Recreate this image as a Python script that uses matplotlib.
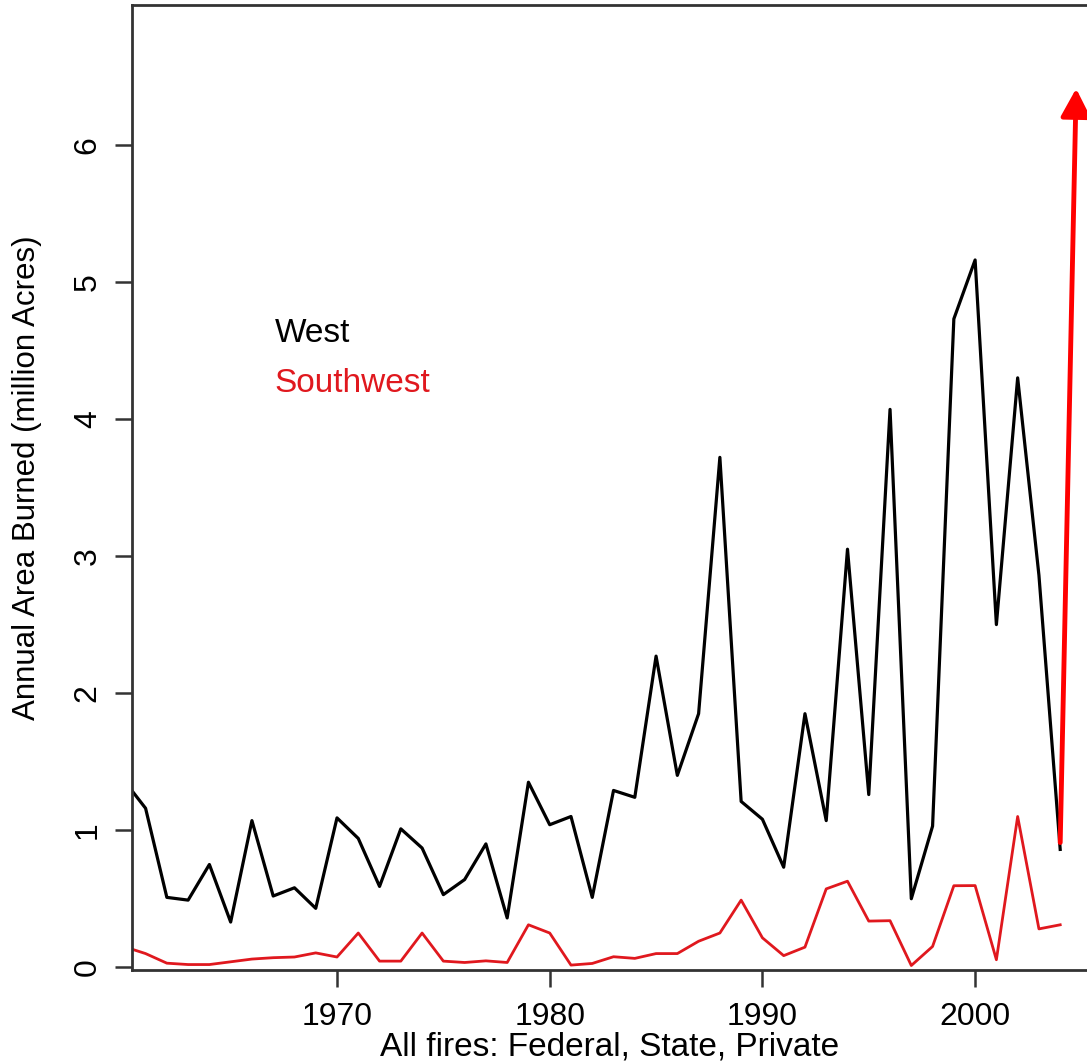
import numpy as np
import matplotlib
matplotlib.use("Agg")
from matplotlib import pyplot as plt

plt.rcParams['font.family'] = ['Liberation Sans', 'DejaVu Sans']

years = list(range(1960, 2005))
west = [1.36, 1.16, 0.51, 0.49, 0.75, 0.33, 1.07, 0.52, 0.58, 0.43,
        1.09, 0.94, 0.59, 1.01, 0.87, 0.53, 0.64, 0.90, 0.36, 1.35,
        1.04, 1.10, 0.51, 1.29, 1.24, 2.27, 1.40, 1.85, 3.72, 1.21,
        1.08, 0.73, 1.85, 1.07, 3.05, 1.26, 4.07, 0.50, 1.03, 4.73,
        5.16, 2.50, 4.30, 2.86, 0.86]
southwest = [0.15, 0.10, 0.03, 0.02, 0.02, 0.04, 0.06, 0.07, 0.075, 0.105,
             0.075, 0.25, 0.045, 0.045, 0.25, 0.045, 0.035, 0.047, 0.035, 0.31,
             0.25, 0.016, 0.028, 0.077, 0.065, 0.10, 0.10, 0.19, 0.25, 0.49,
             0.215, 0.085, 0.147, 0.572, 0.628, 0.337, 0.34, 0.013, 0.152, 0.595,
             0.596, 0.055, 1.10, 0.28, 0.31]
x_ticks = [1970, 1980, 1990, 2000]
y_ticks = [0, 1, 2, 3, 4, 5, 6]
arrow_start = (2004.0, 0.91)
arrow_end = (2004.75, 6.41)

fig = plt.figure(figsize=(10.87, 10.62), dpi=100)
ax = fig.add_axes([0.1214, 0.0866, 0.8786, 0.9087])

ax.plot(years, west, color="black", linewidth=2.3)
ax.plot(years, southwest, color="#e0181e", linewidth=2.0)

ax.annotate("", xy=arrow_end, xytext=arrow_start,
            arrowprops=dict(arrowstyle="-|>,head_length=1.7,head_width=0.9",
                            color="#ff0000", linewidth=3.5,
                            shrinkA=0, shrinkB=0))

ax.text(0.1497, 0.660, "West", transform=ax.transAxes, fontsize=24,
        color="black", va="center", ha="left")
ax.text(0.1497, 0.608, "Southwest", transform=ax.transAxes, fontsize=24,
        color="#e0181e", va="center", ha="left")

ax.set_xlim(1960.36, 2005.26)
ax.set_ylim(-0.02, 7.02)
ax.set_xticks(x_ticks)
ax.set_yticks(y_ticks)
ax.tick_params(axis="both", direction="out", length=12, width=1.8,
               color="#333333", labelsize=23)
ax.tick_params(axis="x", pad=11)
ax.tick_params(axis="y", pad=9)
for lab in ax.get_yticklabels():
    lab.set_rotation(90)
    lab.set_va("center")

for side in ["left", "bottom", "top"]:
    ax.spines[side].set_linewidth(2.0)
    ax.spines[side].set_color("#333333")
ax.spines["right"].set_visible(False)

ax.set_xlabel("All fires: Federal, State, Private", fontsize=24, labelpad=0)
ax.set_ylabel("Annual Area Burned (million Acres)", fontsize=22.5)
ax.yaxis.set_label_coords(-0.094, 0.51)

fig.savefig("out.png", dpi=100)
